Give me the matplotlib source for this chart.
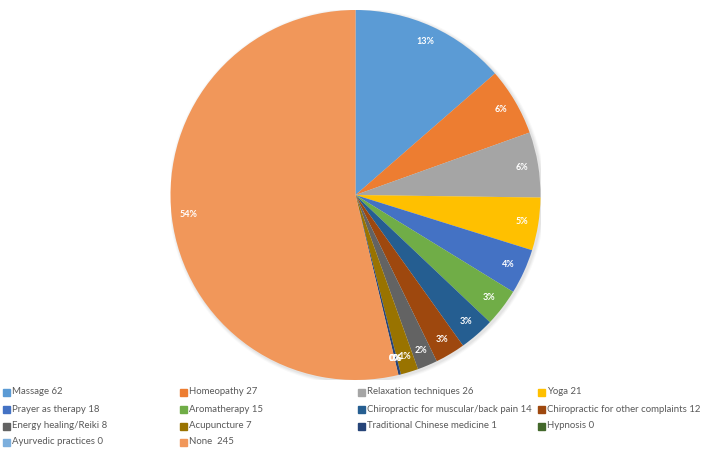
import matplotlib.pyplot as plt
from matplotlib.patches import Rectangle, Circle

labels = ["Massage", "Homeopathy", "Relaxation techniques", "Yoga",
          "Prayer as therapy", "Aromatherapy", "Chiropractic for muscular/back pain",
          "Chiropractic for other complaints", "Energy healing/Reiki", "Acupuncture",
          "Traditional Chinese medicine", "Hypnosis", "Ayurvedic practices", "None "]
values = [62, 27, 26, 21, 18, 15, 14, 12, 8, 7, 1, 0, 0, 245]
# percentages as printed on the chart
pct_labels = ["13%", "6%", "6%", "5%", "4%", "3%", "3%", "3%", "2%", "1%",
              "0%", "0%", "0%", "54%"]
colors = ["#5B9BD5", "#ED7D31", "#A5A5A5", "#FFC000", "#4472C4", "#70AD47",
          "#255E91", "#9E480E", "#636363", "#997300", "#264478", "#43682B",
          "#7CAFDD", "#F1975A"]

W, H = 703, 449
fig = plt.figure(figsize=(W / 100, H / 100), dpi=100)

# pie: center (355, 195) px, radius 185 px
cx, cy, r = 355.5, 195, 185
ax = fig.add_axes([(cx - r) / W, (H - cy - r) / H, 2 * r / W, 2 * r / H])
# soft shadow behind the pie
for k, a in [(1.018, 0.05), (1.012, 0.07), (1.006, 0.09)]:
    ax.add_patch(Circle((0.008, -0.008), k, color="#808080", alpha=a, lw=0, zorder=0))
wedges, texts = ax.pie(values, colors=colors, startangle=90, counterclock=False,
                       labels=pct_labels, labeldistance=0.91,
                       wedgeprops=dict(linewidth=0))
for t in texts:
    t.set_color("white")
    t.set_fontsize(6.5)
    t.set_fontweight("bold")
    t.set_fontfamily("Lato")
    t.set_ha("center")
    t.set_va("center")
ax.set_xlim(-1, 1)
ax.set_ylim(-1, 1)
ax.set_aspect("equal")
ax.axis("off")

# legend laid out like Excel: 4 columns, row-major
col_x = [3, 180, 358, 538]
row_y = [392, 409, 426, 442]
for i, (lab, v, c) in enumerate(zip(labels, values, colors)):
    x = col_x[i % 4]
    y = row_y[i // 4]
    fig.patches.append(Rectangle((x / W, (H - y - 3.5) / H), 7 / W, 7 / H,
                                 transform=fig.transFigure, color=c))
    fig.text((x + 9) / W, (H - y) / H, f"{lab} {v}", fontsize=6.95,
             family="Lato", color="#595959", va="center", ha="left")

fig.savefig("out.png", dpi=100)
